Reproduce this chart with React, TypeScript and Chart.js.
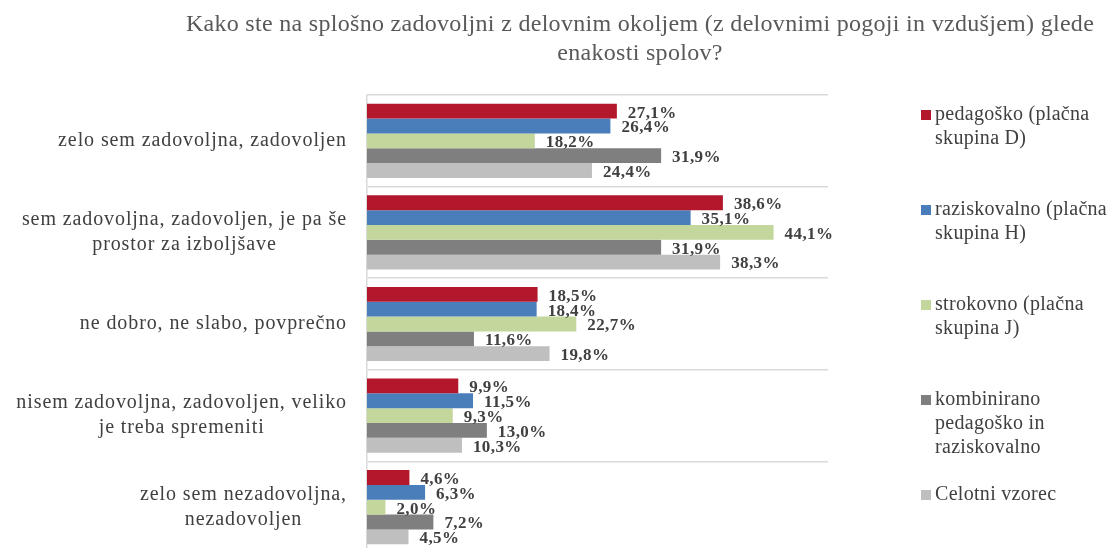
import React, { useEffect, useRef } from "react";
import { Chart, registerables } from "chart.js";

Chart.register(...registerables);

const titleLines = [
  "Kako ste na splošno zadovoljni z delovnim okoljem (z delovnimi pogoji in vzdušjem) glede",
  "enakosti spolov?",
];

const categories: string[][] = [
  ["zelo sem zadovoljna, zadovoljen"],
  ["sem zadovoljna, zadovoljen, je pa še", "prostor za izboljšave"],
  ["ne dobro, ne slabo, povprečno"],
  ["nisem zadovoljna, zadovoljen, veliko", "je treba spremeniti"],
  ["zelo sem nezadovoljna,", "nezadovoljen"],
];

const seriesNames: string[][] = [
  ["pedagoško (plačna", "skupina D)"],
  ["raziskovalno (plačna", "skupina H)"],
  ["strokovno (plačna", "skupina J)"],
  ["kombinirano", "pedagoško in", "raziskovalno"],
  ["Celotni vzorec"],
];

const pedagosko = [27.1, 38.6, 18.5, 9.9, 4.6];
const raziskovalno = [26.4, 35.1, 18.4, 11.5, 6.3];
const strokovno = [18.2, 44.1, 22.7, 9.3, 2.0];
const kombinirano = [31.9, 31.9, 11.6, 13.0, 7.2];
const celotni = [24.4, 38.3, 19.8, 10.3, 4.5];

const seriesColors = ["#B3172B", "#4A7EBB", "#C3D69B", "#7F7F7F", "#BFBFBF"];

const FONT = '"Liberation Serif", "Times New Roman", serif';
const TEXT_COLOR = "#404040";

const fmt = (v: number) => v.toFixed(1).replace(".", ",") + "%";

const customDraw = {
  id: "customDraw",
  afterDraw(chart: any) {
    const ctx = chart.ctx;
    const area = chart.chartArea;
    const yScale = chart.scales.y;
    ctx.save();

    // Title
    ctx.fillStyle = "#595959";
    ctx.font = `24px ${FONT}`;
    ctx.letterSpacing = "0.3px";
    ctx.textAlign = "center";
    ctx.textBaseline = "middle";
    titleLines.forEach((line, i) => {
      ctx.fillText(line, 640, 25 + i * 29);
    });

    // Category labels
    ctx.fillStyle = TEXT_COLOR;
    ctx.font = `20px ${FONT}`;
    ctx.letterSpacing = "0.9px";
    const rightEdge = area.left - 20;
    const lh = 25;
    categories.forEach((lines, i) => {
      const yc = yScale.getPixelForTick(i);
      const w = Math.max(...lines.map((l) => ctx.measureText(l).width));
      ctx.textAlign = "center";
      lines.forEach((l, j) => {
        const y = yc + (j - (lines.length - 1) / 2) * lh;
        ctx.fillText(l, rightEdge - w / 2, y);
      });
    });

    // Legend
    ctx.font = `20px ${FONT}`;
    ctx.letterSpacing = "0.3px";
    ctx.textAlign = "left";
    const lx = area.right + 93;
    seriesNames.forEach((lines, i) => {
      const y0 = area.top + 20 + i * 95;
      ctx.fillStyle = seriesColors[i];
      ctx.fillRect(lx, y0 - 5, 10, 10);
      ctx.fillStyle = TEXT_COLOR;
      lines.forEach((l, j) => {
        ctx.fillText(l, lx + 14, y0 + j * 24);
      });
    });
    ctx.restore();
  },
  afterDatasetsDraw(chart: any) {
    const ctx = chart.ctx;
    ctx.save();
    ctx.font = `bold 17px ${FONT}`;
    ctx.letterSpacing = "0.4px";
    ctx.fillStyle = TEXT_COLOR;
    ctx.textAlign = "left";
    ctx.textBaseline = "middle";
    chart.data.datasets.forEach((ds: any, di: number) => {
      const meta = chart.getDatasetMeta(di);
      meta.data.forEach((bar: any, i: number) => {
        ctx.fillText(fmt(ds.data[i]), bar.x + 11, bar.y + 2);
      });
    });
    ctx.restore();
  },
};

export default function App() {
  const canvasRef = useRef<HTMLCanvasElement | null>(null);

  useEffect(() => {
    if (!canvasRef.current) return;
    const datasets = [pedagosko, raziskovalno, strokovno, kombinirano, celotni].map((data, i) => ({
      label: seriesNames[i].join(" "),
      data,
      backgroundColor: seriesColors[i],
      borderWidth: 0,
      categoryPercentage: 0.81,
      barPercentage: 1,
    }));
    const chart = new Chart(canvasRef.current, {
      type: "bar",
      data: {
        labels: categories.map((c) => c.join(" ")),
        datasets,
      },
      options: {
        indexAxis: "y",
        animation: false,
        responsive: true,
        maintainAspectRatio: false,
        layout: { padding: { top: 95, bottom: 17, left: 0, right: 280 } },
        plugins: {
          legend: { display: false },
          title: { display: false },
          tooltip: { enabled: false },
        },
        scales: {
          x: {
            display: false,
            min: 0,
            max: 50,
          },
          y: {
            ticks: { display: false },
            grid: {
              color: "#D9D9D9",
              lineWidth: 1.5,
              drawTicks: false,
              offset: true,
            },
            border: { display: true, color: "#D9D9D9", width: 1.5 },
            afterFit: (scale: any) => {
              scale.width = 367;
            },
          },
        },
      },
      plugins: [customDraw],
    });
    return () => chart.destroy();
  }, []);

  return (
    <div
      style={{
        position: "fixed",
        left: 0,
        top: 0,
        width: 1108,
        height: 548,
        overflow: "hidden",
        background: "#fff",
      }}
    >
      <div style={{ position: "relative", width: 1108, height: 570 }}>
        <canvas ref={canvasRef} />
      </div>
    </div>
  );
}
